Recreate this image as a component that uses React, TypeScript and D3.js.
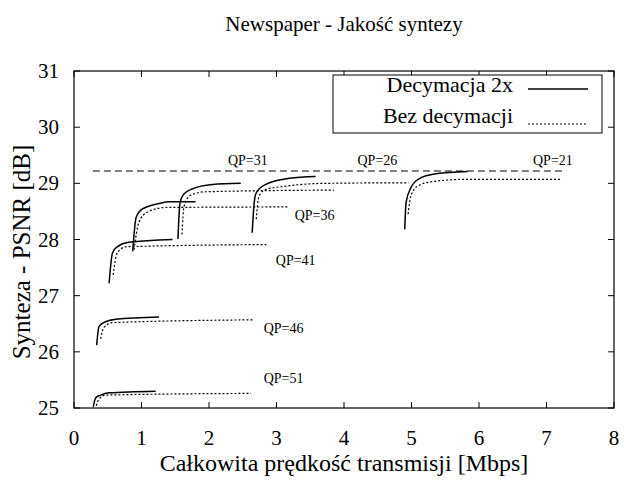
import React from "react";
import * as d3 from "d3";

type P = [number, number];

const title = "Newspaper - Jakość syntezy";
const xLabel = "Całkowita prędkość transmisji [Mbps]";
const yLabel = "Synteza - PSNR [dB]";
const legendLabels = ["Decymacja 2x", "Bez decymacji"];
const xTicks = [0, 1, 2, 3, 4, 5, 6, 7, 8];
const yTicks = [25, 26, 27, 28, 29, 30, 31];

// Decymacja 2x (solid)
const dec51: P[] = [[0.286, 25.02], [0.32, 25.18], [0.395, 25.23], [0.52, 25.27], [1.21, 25.3]];
const dec46: P[] = [[0.336, 26.12], [0.37, 26.45], [0.44, 26.52], [0.62, 26.58], [1.26, 26.62]];
const dec41: P[] = [[0.52, 27.22], [0.57, 27.76], [0.64, 27.87], [0.81, 27.95], [1.46, 28.0]];
const dec36: P[] = [[0.87, 27.79], [0.92, 28.39], [1.01, 28.54], [1.26, 28.64], [1.41, 28.67], [1.8, 28.67]];
const dec31: P[] = [[1.54, 28.01], [1.57, 28.65], [1.62, 28.8], [1.75, 28.9], [2.05, 28.98], [2.47, 29.0]];
const dec26: P[] = [[2.64, 28.12], [2.67, 28.66], [2.7, 28.83], [2.84, 28.98], [3.19, 29.09], [3.58, 29.12]];
const dec21: P[] = [[4.9, 28.18], [4.92, 28.66], [4.99, 28.92], [5.11, 29.08], [5.36, 29.17], [5.83, 29.21]];

// Bez decymacji (dotted)
const bez51: P[] = [[0.33, 25.04], [0.37, 25.16], [0.47, 25.23], [2.62, 25.26]];
const bez46: P[] = [[0.395, 26.23], [0.44, 26.43], [0.57, 26.52], [2.67, 26.57]];
const bez41: P[] = [[0.58, 27.37], [0.64, 27.76], [0.77, 27.87], [2.85, 27.91]];
const bez36: P[] = [[0.89, 27.82], [0.96, 28.3], [1.09, 28.49], [1.36, 28.57], [3.19, 28.58]];
const bez31: P[] = [[1.6, 28.09], [1.63, 28.59], [1.73, 28.79], [1.95, 28.85], [3.85, 28.88]];
const bez26: P[] = [[2.7, 28.36], [2.74, 28.77], [2.84, 28.89], [3.14, 28.95], [3.73, 29.0], [4.96, 29.01]];
const bez21: P[] = [[4.95, 28.45], [4.99, 28.77], [5.09, 28.95], [5.31, 29.03], [5.8, 29.07], [7.21, 29.07]];

const decSeries = [dec51, dec46, dec41, dec36, dec31, dec26, dec21];
const bezSeries = [bez51, bez46, bez41, bez36, bez31, bez26, bez21];

const refLine: P[] = [[0.28, 29.22], [7.25, 29.22]];

const qpLabels: { text: string; x: number; y: number }[] = [
  { text: "QP=31", x: 2.28, y: 29.32 },
  { text: "QP=26", x: 4.2, y: 29.32 },
  { text: "QP=21", x: 6.8, y: 29.32 },
  { text: "QP=36", x: 3.27, y: 28.35 },
  { text: "QP=41", x: 2.99, y: 27.55 },
  { text: "QP=46", x: 2.81, y: 26.34 },
  { text: "QP=51", x: 2.81, y: 25.45 },
];

const W = 624;
const H = 488;
const left = 74;
const right = 614;
const top = 71;
const bottom = 408;
const font = "Liberation Serif, Times New Roman, Times, serif";

export default function App() {
  const x = d3.scaleLinear().domain([0, 8]).range([left, right]);
  const y = d3.scaleLinear().domain([25, 31]).range([bottom, top]);
  const line = d3
    .line<P>()
    .x((d) => x(d[0]))
    .y((d) => y(d[1]))
    .curve(d3.curveMonotoneX);
  const straight = d3
    .line<P>()
    .x((d) => x(d[0]))
    .y((d) => y(d[1]));
  const tl = 6;
  const cx = (left + right) / 2;
  const ts = { fontFamily: font };

  return (
    <svg
      width={W}
      height={H}
      style={{ position: "absolute", left: 0, top: 0, background: "#fff", fontFamily: font }}
    >
      <rect x={0} y={0} width={W} height={H} fill="#fff" />
      <text x={cx} y={31} textAnchor="middle" fontSize={21} style={ts}>
        {title}
      </text>

      {xTicks.map((t) => (
        <g key={"x" + t}>
          <line x1={x(t)} x2={x(t)} y1={bottom} y2={bottom - tl} stroke="#000" />
          <line x1={x(t)} x2={x(t)} y1={top} y2={top + tl} stroke="#000" />
          <text x={x(t)} y={445} textAnchor="middle" fontSize={21} style={ts}>
            {t}
          </text>
        </g>
      ))}
      {yTicks.map((t) => (
        <g key={"y" + t}>
          <line x1={left} x2={left + tl} y1={y(t)} y2={y(t)} stroke="#000" />
          <line x1={right} x2={right - tl} y1={y(t)} y2={y(t)} stroke="#000" />
          <text x={59} y={y(t) + 7} textAnchor="end" fontSize={21} style={ts}>
            {t}
          </text>
        </g>
      ))}

      <rect x={left} y={top} width={right - left} height={bottom - top} fill="none" stroke="#000" strokeWidth={1.2} />

      <text x={cx} y={471} textAnchor="middle" fontSize={24} style={ts}>
        {xLabel}
      </text>
      <text
        transform={`translate(30, 252) rotate(-90)`}
        textAnchor="middle"
        fontSize={25}
        style={ts}
      >
        {yLabel}
      </text>

      <path d={straight(refLine) || ""} fill="none" stroke="#000" strokeWidth={1.1} strokeDasharray="7,4" />

      {bezSeries.map((s, i) => (
        <path key={"b" + i} d={line(s) || ""} fill="none" stroke="#000" strokeWidth={1.2} strokeDasharray="2,2" />
      ))}
      {decSeries.map((s, i) => (
        <path key={"d" + i} d={line(s) || ""} fill="none" stroke="#000" strokeWidth={1.5} />
      ))}

      {qpLabels.map((l) => (
        <text key={l.text} x={x(l.x)} y={y(l.y)} fontSize={14} style={ts}>
          {l.text}
        </text>
      ))}

      <rect x={333} y={75} width={269} height={58} fill="#fff" stroke="#000" strokeWidth={1} />
      <text x={513} y={92} textAnchor="end" fontSize={22} style={ts}>
        {legendLabels[0]}
      </text>
      <line x1={528} x2={588} y1={89} y2={89} stroke="#000" strokeWidth={1.5} />
      <text x={513} y={123} textAnchor="end" fontSize={22} style={ts}>
        {legendLabels[1]}
      </text>
      <line x1={528} x2={588} y1={124} y2={124} stroke="#000" strokeWidth={1.2} strokeDasharray="2,2" />
    </svg>
  );
}
